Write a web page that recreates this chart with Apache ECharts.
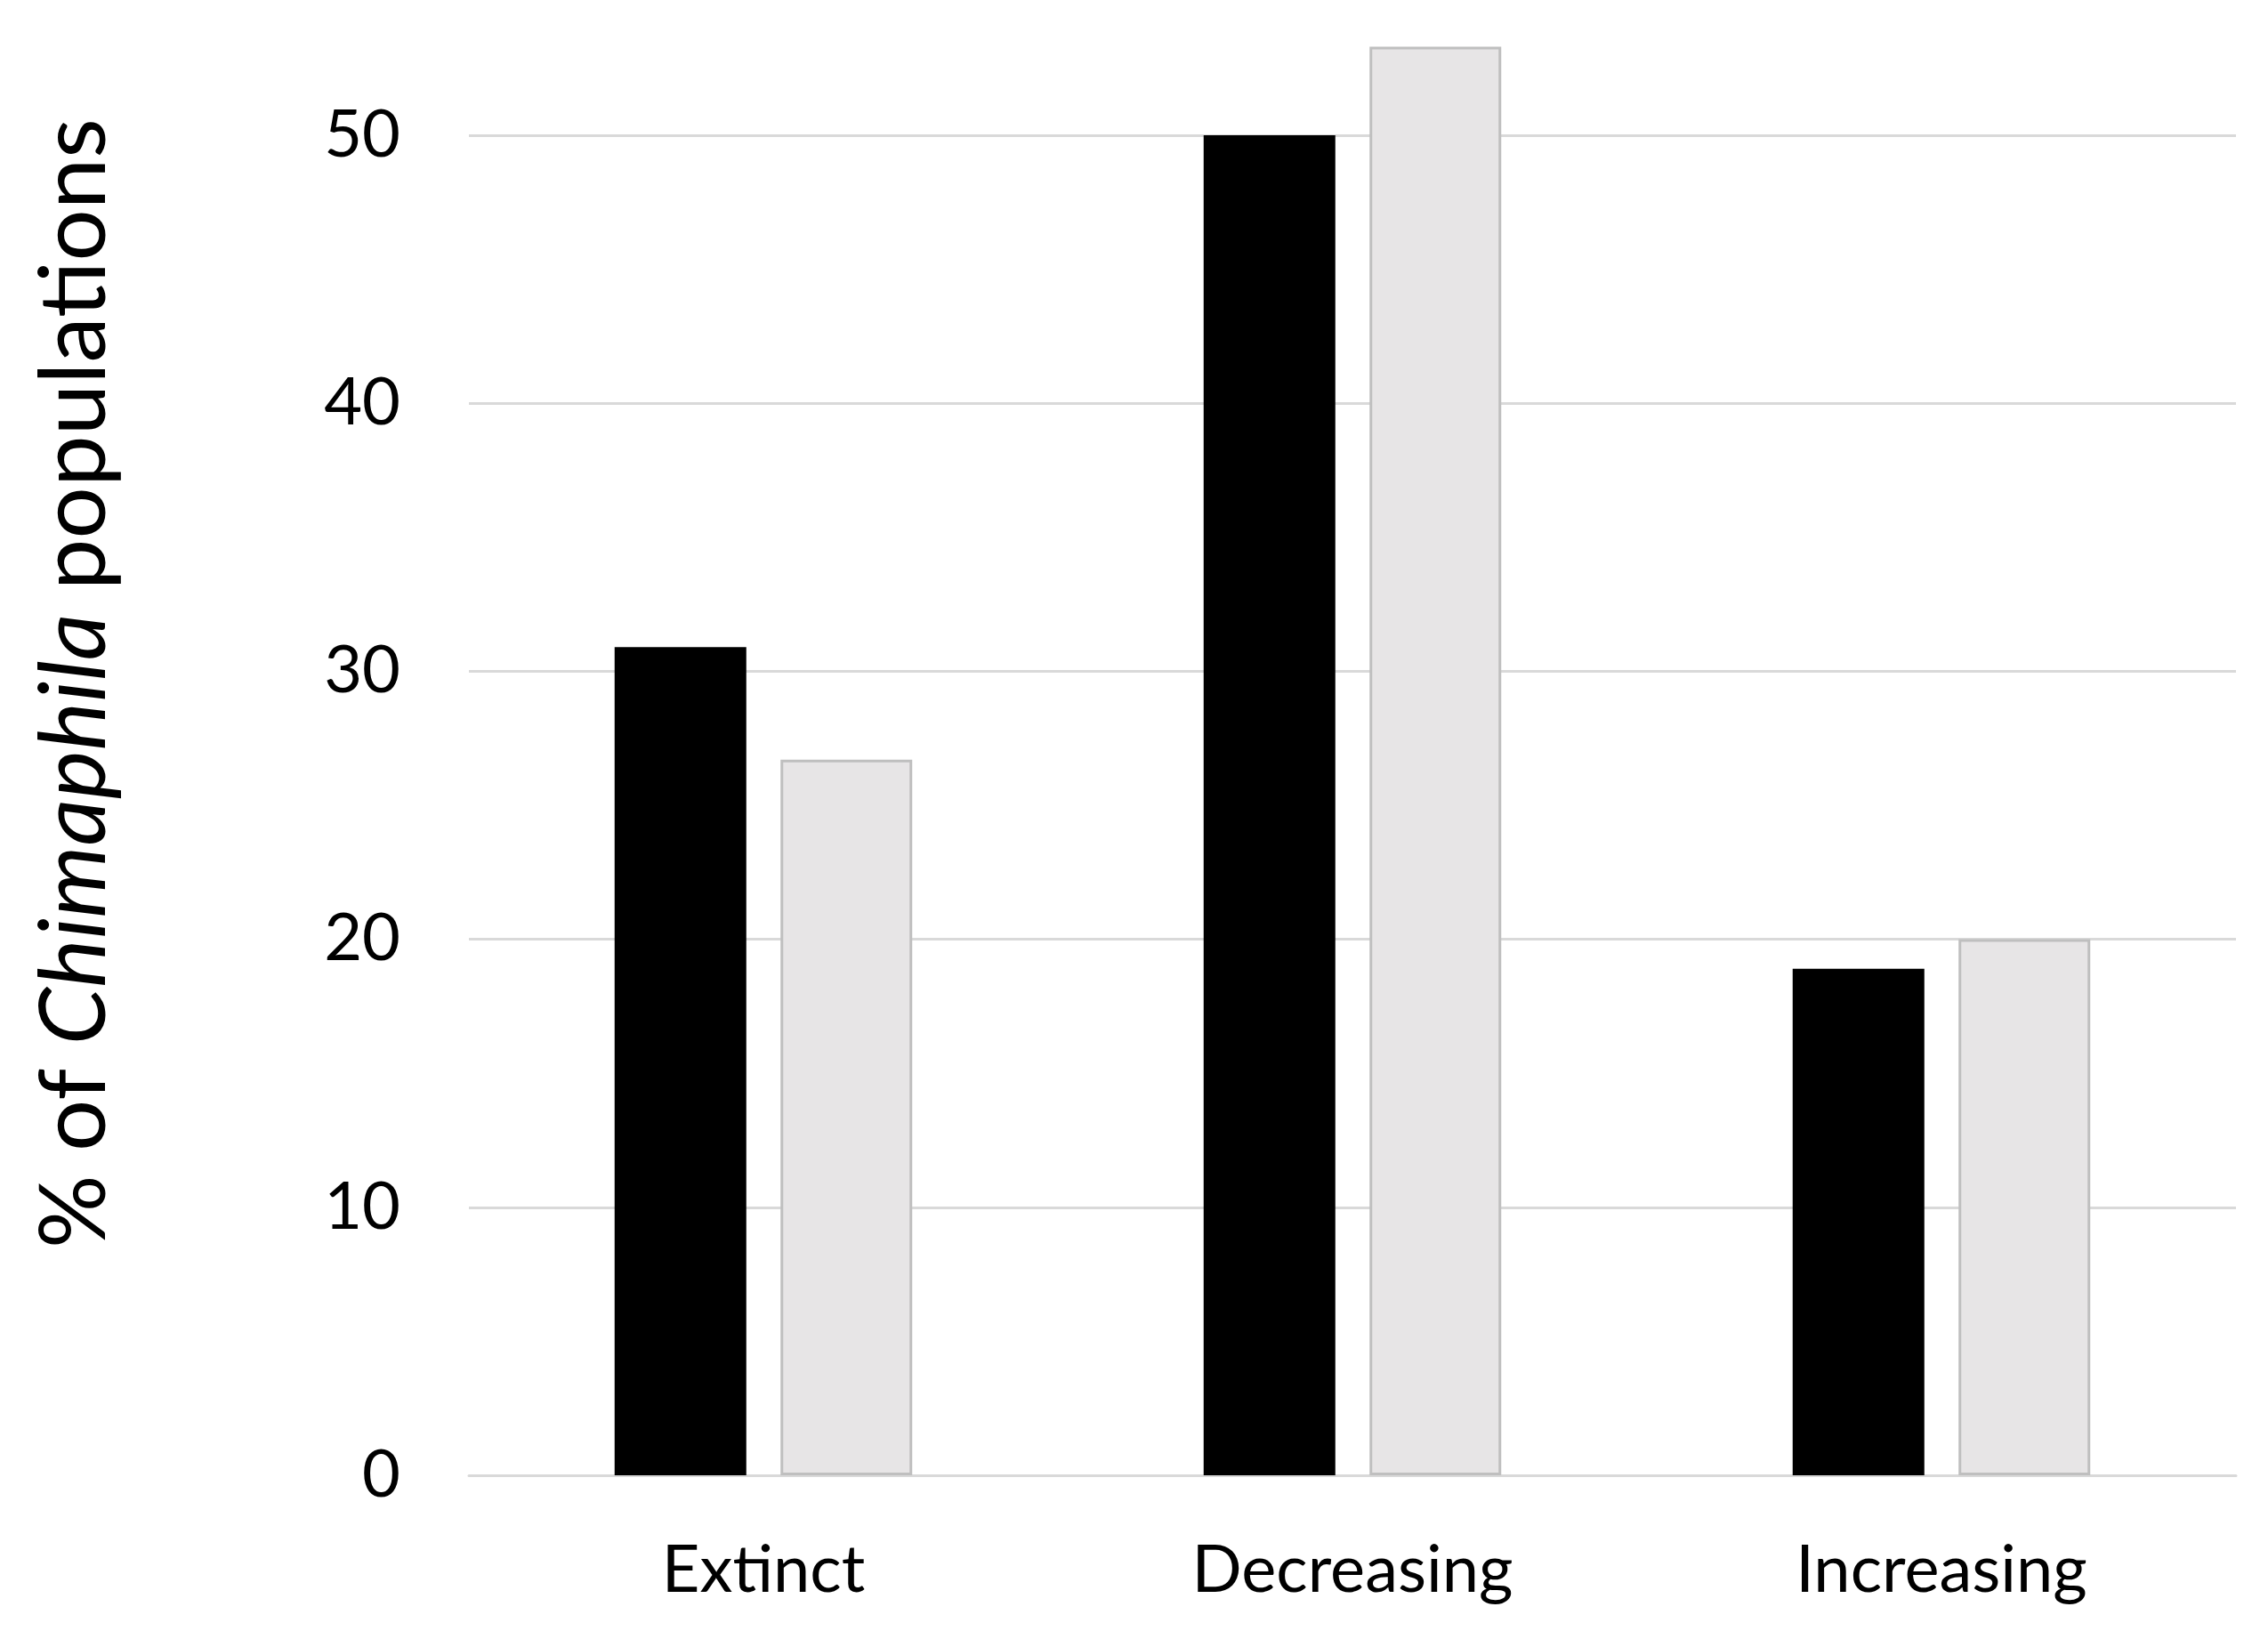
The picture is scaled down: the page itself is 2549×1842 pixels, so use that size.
<!DOCTYPE html>
<html>
<head>
<meta charset="utf-8">
<script src="https://cdn.jsdelivr.net/npm/echarts@6/dist/echarts.min.js"></script>
<style>
  html, body { margin: 0; padding: 0; background: #ffffff; }
  #chart { width: 2549px; height: 1842px; }
</style>
</head>
<body>
<div id="chart"></div>
<script>
const categories = ['Extinct', 'Decreasing', 'Increasing'];
const seriesBlack = [30.9, 50.0, 18.9];
const seriesGray = [26.7, 53.3, 20.0];
const yTicks = { min: 0, max: 50, interval: 10 };

const chart = echarts.init(document.getElementById('chart'));
const FONT = 'Lato, "Open Sans", sans-serif';

chart.setOption({
  backgroundColor: '#ffffff',
  animation: false,
  grid: { left: 527, right: 36, top: 152, bottom: 184 },
  xAxis: {
    type: 'category',
    data: categories,
    axisLine: { show: true, lineStyle: { color: '#d9d9d9', width: 3 } },
    axisTick: { show: false },
    axisLabel: { color: '#000000', fontFamily: FONT, fontSize: 74, margin: 70 }
  },
  yAxis: {
    type: 'value',
    min: yTicks.min,
    max: yTicks.max,
    interval: yTicks.interval,
    axisLine: { show: false },
    axisTick: { show: false },
    splitLine: { show: true, lineStyle: { color: '#d9d9d9', width: 3 } },
    axisLabel: { color: '#000000', fontFamily: FONT, fontSize: 74, margin: 77 }
  },
  series: [
    {
      type: 'bar',
      data: seriesBlack,
      barWidth: 148,
      barGap: '26%',
      clip: false,
      itemStyle: { color: '#000000' }
    },
    {
      type: 'bar',
      data: seriesGray,
      barWidth: 148,
      barGap: '26%',
      clip: false,
      itemStyle: { color: '#e7e5e6', borderColor: '#bfbfbf', borderWidth: 3 }
    }
  ],
  graphic: [
    {
      type: 'text',
      x: 85,
      y: 768,
      rotation: Math.PI / 2,
      style: {
        text: '{n|% of }{i|Chimaphila}{n| populations}',
        align: 'center',
        verticalAlign: 'middle',
        fill: '#000000',
        rich: {
          n: { fontFamily: FONT, fontSize: 103, fill: '#000000' },
          i: { fontFamily: FONT, fontSize: 103, fontStyle: 'italic', fill: '#000000' }
        }
      }
    }
  ]
});
</script>
</body>
</html>
